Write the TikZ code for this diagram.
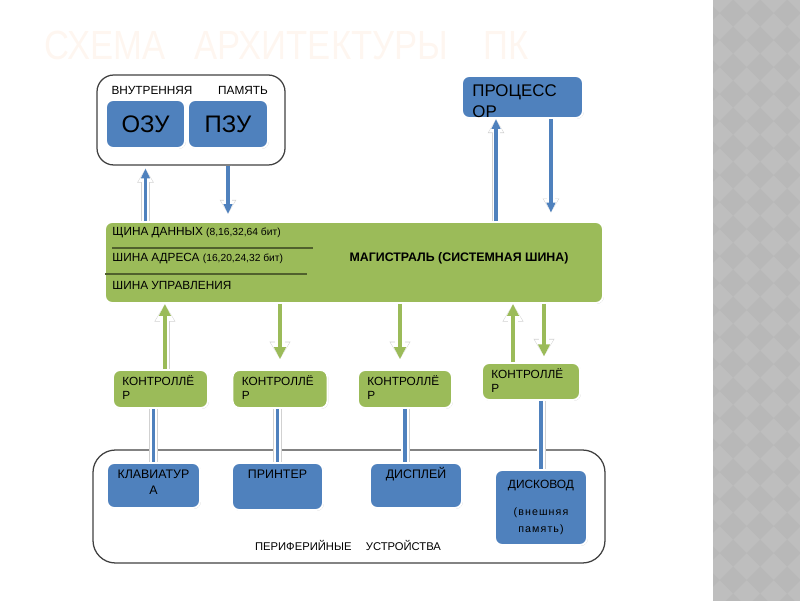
\documentclass[tikz,border=0pt]{standalone}
\usepackage{graphicx}
\usepackage{fontspec}
\setmainfont{Liberation Sans}
\newfontfamily\noteFont[LetterSpace=10]{Liberation Sans}
\usepackage{tikz}
\usetikzlibrary{shapes, calc, arrows.meta, positioning, shadows}

\definecolor{boxBlue}{RGB}{79,129,189}
\definecolor{busGreen}{RGB}{155,187,89}
\definecolor{lineOlive}{RGB}{80,96,45}
\definecolor{frameGray}{RGB}{64,64,64}
\definecolor{titleCol}{RGB}{254,246,240}
\definecolor{panelGray}{RGB}{190,190,190}
\definecolor{panelDark}{RGB}{184,184,184}
\newcommand{\busNote}{\fontsize{7.3}{9}\selectfont}

\begin{document}
\begin{tikzpicture}[semithick, font=\fontsize{8.4}{10}\selectfont]
	\tikzset{
		blueBox/.style={draw=white, line width=1.4pt, fill=boxBlue, rounded corners=5pt, inner sep=0pt,
			drop shadow={shadow xshift=0.6pt, shadow yshift=-0.6pt, fill=black!40, opacity=0.5}},
		greenBox/.style={blueBox, fill=busGreen},
		frameBox/.style={draw=frameGray, line width=0.9pt, rounded corners=12pt},
		txt/.style={inner sep=0pt, text=black, align=left},
		sepLine/.style={draw=lineOlive, line width=1.1pt},
		blueShade/.style={draw=black!18, line width=6.2pt, -{Triangle[length=10pt,width=11pt]}},
		blueHalo/.style={draw=white, line width=5pt, -{Triangle[length=9.5pt,width=9.5pt]}},
		blueArrow/.style={draw=boxBlue, line width=2.2pt, -{Triangle[length=7pt,width=6pt]}},
		greenShade/.style={draw=black!18, line width=7.6pt, -{Triangle[length=12.5pt,width=14pt]}},
		greenHalo/.style={draw=white, line width=6.5pt, -{Triangle[length=12pt,width=12.5pt]}},
		greenArrow/.style={draw=busGreen, line width=3.3pt, -{Triangle[length=8.5pt,width=8pt]}},
		lineShade/.style={draw=black!18, line width=6.4pt},
		lineHalo/.style={draw=white, line width=5.4pt},
		blueLine/.style={draw=boxBlue, line width=2.8pt}
	}
	\useasboundingbox (0,0) rectangle (20,15);

	% side panel
	\fill[panelGray] (17.825,-0.2) rectangle (20.2,15.2);
	\begin{scope}
		\clip (17.825,-0.2) rectangle (20.2,15.2);
		\foreach \i in {-1,...,3}
			\foreach \j in {0,...,23}
				\fill[panelDark] ({18.33+\i*0.675},{14.67-\j*0.675}) +(0.3375,0) -- +(0,0.3375) -- +(-0.3375,0) -- +(0,-0.3375) -- cycle;
	\end{scope}

	\node[txt, text=titleCol, font=\fontsize{29}{32}\selectfont] (title) at (7.1625,13.875)
		{\scalebox{0.85}[1]{СХЕМА\hspace{0.55em} АРХИТЕКТУРЫ\hspace{0.75em} ПК}};

	% memory
	\node[frameBox, minimum width=4.7cm, minimum height=2.25cm] (mem) at (4.775,12.0) {};
	\node[txt] (memTextA) at (3.8,12.75) {ВНУТРЕННЯЯ};
	\node[txt] (memTextB) at (6.075,12.75) {ПАМЯТЬ};
	\node[blueBox, minimum width=1.975cm, minimum height=1.2cm, font=\fontsize{17}{20}\selectfont] (ozu) at (3.6375,11.9) {ОЗУ};
	\node[blueBox, minimum width=2.0cm, minimum height=1.2cm, font=\fontsize{17}{20}\selectfont] (pzu) at (5.7,11.9) {ПЗУ};

	% processor
	\node[blueBox, minimum width=3.025cm, minimum height=1.05cm] (proc) at (13.0625,12.575) {};
	\node[txt, font=\fontsize{12}{15}\selectfont, below right=0.22cm and 0.275cm of proc.north west] (procText) {ПРОЦЕСС\\ОР};

	% bus
	\node[greenBox, minimum width=12.45cm, minimum height=2.025cm] (bus) at (8.85,8.4375) {};
	\node[txt, anchor=west] (busData) at ([shift={(0.2,-0.28)}]bus.north west) {ЩИНА ДАННЫХ {\busNote(8,16,32,64 бит)}};
	\node[txt, anchor=west] (busAddr) at ([shift={(0.2,-0.93)}]bus.north west) {ШИНА АДРЕСА {\busNote(16,20,24,32 бит)}};
	\node[txt, anchor=west] (busCtrl) at ([shift={(0.2,-1.62)}]bus.north west) {ШИНА УПРАВЛЕНИЯ};
	\draw[sepLine] ([shift={(0.2,-0.675)}]bus.north west) -- ++(5.025,0);
	\draw[sepLine] ([shift={(0.025,-1.325)}]bus.north west) -- ++(5.05,0);
	\node[txt, font=\fontsize{8.8}{10}\selectfont\bfseries] (busTitle) at (11.475,8.55) {МАГИСТРАЛЬ (СИСТЕМНАЯ ШИНА)};

	% controllers
	\node[greenBox, minimum width=2.375cm, minimum height=0.95cm] (ctl1) at (4.0125,5.275) {};
	\node[greenBox, minimum width=2.375cm, minimum height=0.95cm] (ctl2) at (7.0,5.275) {};
	\node[greenBox, minimum width=2.35cm, minimum height=0.95cm] (ctl3) at (10.125,5.275) {};
	\node[greenBox, minimum width=2.45cm, minimum height=0.925cm] (ctl4) at (13.275,5.4625) {};
	\node[txt, below right=0.15cm and 0.25cm of ctl1.north west] (ctl1Text) {КОНТРОЛЛЁ\\Р};
	\node[txt, below right=0.15cm and 0.25cm of ctl2.north west] (ctl2Text) {КОНТРОЛЛЁ\\Р};
	\node[txt, below right=0.15cm and 0.25cm of ctl3.north west] (ctl3Text) {КОНТРОЛЛЁ\\Р};
	\node[txt, below right=0.15cm and 0.25cm of ctl4.north west] (ctl4Text) {КОНТРОЛЛЁ\\Р};

	% peripherals
	\node[frameBox, rounded corners=16pt, minimum width=12.8cm, minimum height=2.825cm] (perif) at (8.725,2.3375) {};
	\node[txt, font=\fontsize{8}{10}\selectfont] (perifText) at (8.7,1.375) {ПЕРИФЕРИЙНЫЕ\hspace{1em} УСТРОЙСТВА};
	\node[blueBox, minimum width=2.325cm, minimum height=1.125cm] (kbd) at (3.8375,2.8625) {};
	\node[blueBox, minimum width=2.275cm, minimum height=1.175cm] (prn) at (6.9375,2.8375) {};
	\node[blueBox, minimum width=2.3cm, minimum height=1.125cm] (disp) at (10.4,2.8625) {};
	\node[blueBox, minimum width=2.3cm, minimum height=1.875cm] (disk) at (13.525,2.3125) {};
	\node[txt, align=center, font=\fontsize{8.8}{11}\selectfont, below=0.19cm of kbd.north] (kbdText) {КЛАВИАТУР\\А};
	\node[txt, align=center, font=\fontsize{8.8}{11}\selectfont, below=0.19cm of prn.north] (prnText) {ПРИНТЕР};
	\node[txt, align=center, font=\fontsize{8.8}{11}\selectfont, below=0.13cm of disp.north] (dispText) {ДИСПЛЕЙ};
	\node[txt, align=center, font=\fontsize{8.5}{11}\selectfont, below=0.26cm of disk.north] (diskText) {ДИСКОВОД};
	\node[txt, align=center, font=\noteFont\fontsize{7.6}{12}\selectfont, below=0.95cm of disk.north] (diskNote) {(внешняя\\память)};

	% connectors, drawn as shade, halo, arrow
	\foreach \layer in {blueShade, blueHalo, blueArrow}{
		\path
			(ozu |- bus.north)
				edge[\layer, shorten >=2pt] (ozu |- mem.south)
			(pzu |- mem.south)
				edge[\layer, shorten >=5pt] (pzu |- bus.north)
			([xshift=0.875cm]proc.south west |- bus.north)
				edge[\layer] ([xshift=0.875cm]proc.south west)
			([xshift=-0.825cm]proc.south east)
				edge[\layer, shorten >=6pt] ([xshift=-0.825cm]proc.south east |- bus.north);
	}
	\foreach \layer in {greenShade, greenHalo, greenArrow}{
		\path
			([xshift=0.11cm]ctl1.north)
				edge[\layer] ([xshift=0.11cm]ctl1.north |- bus.south)
			(ctl2 |- bus.south)
				edge[\layer, shorten >=7pt] (ctl2.north)
			([xshift=-0.125cm]ctl3.north |- bus.south)
				edge[\layer, shorten >=7pt] ([xshift=-0.125cm]ctl3.north)
			([xshift=-0.45cm]ctl4.north)
				edge[\layer] ([xshift=-0.45cm]ctl4.north |- bus.south)
			([xshift=0.325cm]ctl4.north |- bus.south)
				edge[\layer, shorten >=4pt] ([xshift=0.325cm]ctl4.north);
	}
	\foreach \layer in {lineShade, lineHalo, blueLine}{
		\path
			(kbd |- ctl1.south)
				edge[\layer] (kbd.north)
			(prn |- ctl2.south)
				edge[\layer] (prn.north)
			(ctl3.south)
				edge[\layer] (ctl3 |- disp.north)
			(disk |- ctl4.south)
				edge[\layer] (disk.north);
	}
\end{tikzpicture}
\end{document}
